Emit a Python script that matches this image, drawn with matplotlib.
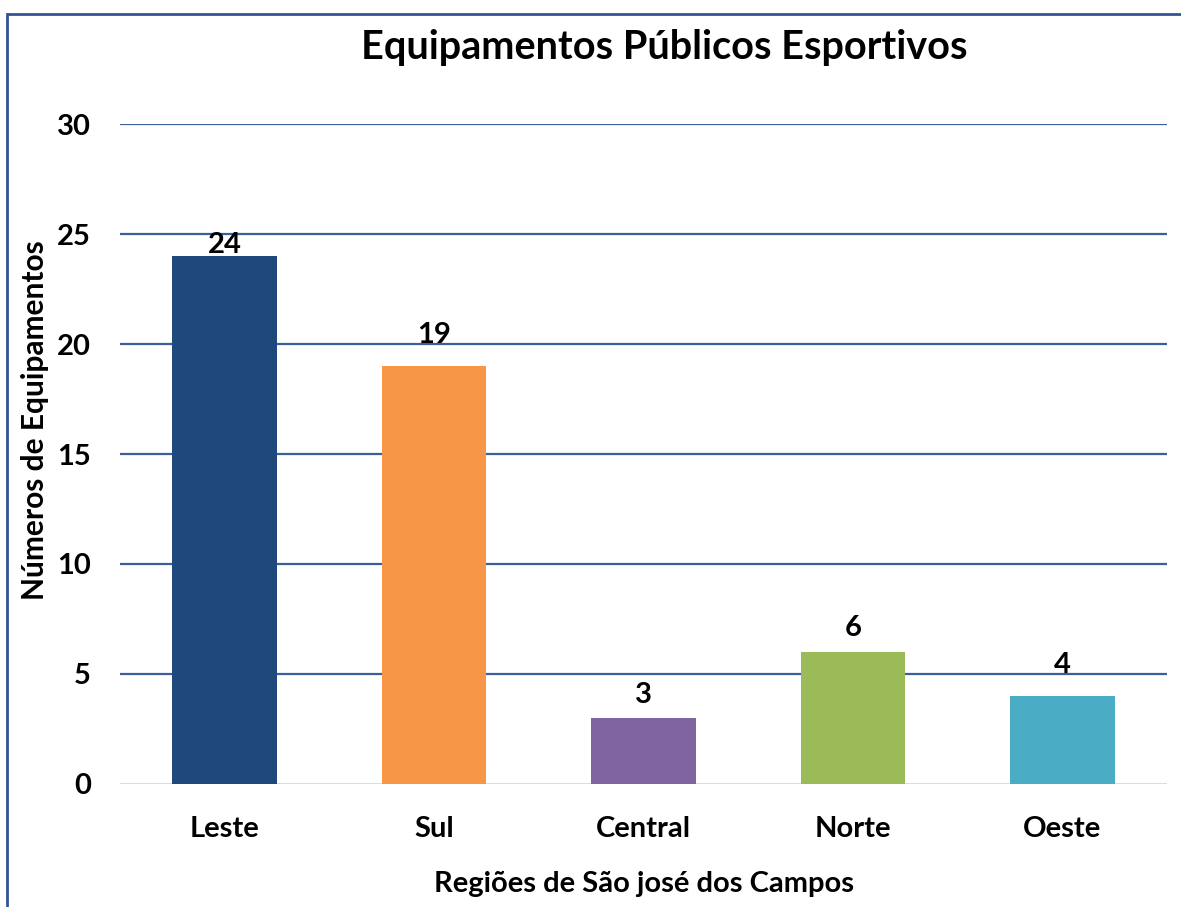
import matplotlib
matplotlib.use("Agg")
import matplotlib.pyplot as plt
from matplotlib.patches import Rectangle

# data
regioes = ['Leste', 'Sul', 'Central', 'Norte', 'Oeste']
equipamentos = [24, 19, 3, 6, 4]
cores = ['#1F497D', '#F79646', '#8064A2', '#9BBB59', '#4BACC6']
# label nudges (points above bar top), as in the original layout
nudges = [8, 22, 16.5, 17, 22]

plt.rcParams['font.family'] = ['Lato', 'DejaVu Sans']
plt.rcParams['font.weight'] = 'bold'

fig = plt.figure(figsize=(11.81, 9.07), dpi=100)
ax = fig.add_axes([120/1181, 1-784/907, (1167-120)/1181, (784-124)/907])

x = range(len(regioes))
bars = ax.bar(x, equipamentos, width=0.5, color=cores, zorder=3)
for i, b in enumerate(bars):
    ax.annotate(str(equipamentos[i]), (b.get_x()+b.get_width()/2, b.get_height()),
                textcoords='offset points', xytext=(0, nudges[i]),
                ha='center', va='center', fontsize=21, fontweight='bold', zorder=4)

ax.set_xlim(-0.5, len(regioes)-0.5)
ax.set_ylim(0, 30)
ax.set_yticks([0, 5, 10, 15, 20, 25, 30])
ax.set_xticks(list(x))
ax.set_xticklabels(regioes)
ax.tick_params(axis='both', length=0, labelsize=21)
ax.tick_params(axis='y', pad=21)
ax.tick_params(axis='x', pad=23)
for lab in ax.get_xticklabels() + ax.get_yticklabels():
    lab.set_fontweight('bold')

for s in ax.spines.values():
    s.set_visible(False)
for v in [5, 10, 15, 20, 25, 30]:
    ax.axhline(v, color='#3A5F9A', lw=1.6, zorder=1)
ax.axhline(0, color='#D0DEF2', lw=2.2, zorder=2)

ax.set_ylabel('Números de Equipamentos', fontsize=21.5, fontweight='bold', va='center')
ax.yaxis.set_label_coords((35-120)/1047, (784-420)/660)
ax.set_xlabel('Regiões de São josé dos Campos', fontsize=21, fontweight='bold', va='center')
ax.xaxis.set_label_coords(0.5, -(884-784)/660)
fig.text(664/1181, 1-48/907, 'Equipamentos Públicos Esportivos', ha='center', va='center',
         fontsize=28.5, fontweight='bold')

fig.patches.append(Rectangle((7/1181, -0.1), 1.2, 1-14/907+0.1, transform=fig.transFigure,
                             fill=False, edgecolor='#2F5597', lw=2))

fig.savefig('out.png', dpi=100)
